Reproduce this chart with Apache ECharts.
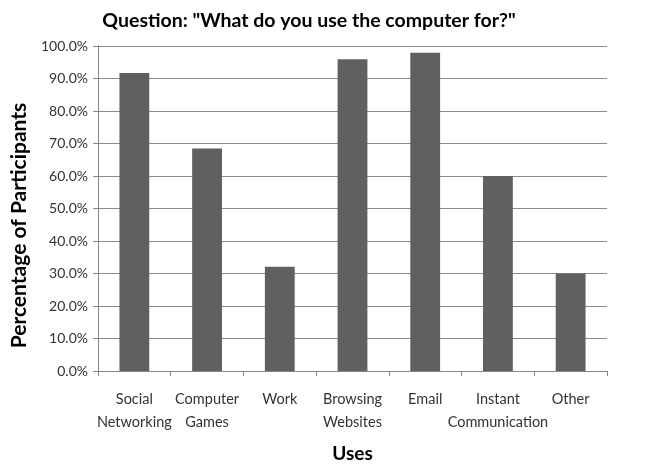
<!DOCTYPE html>
<html>
<head>
<meta charset="utf-8">
<script src="https://cdn.jsdelivr.net/npm/echarts@6/dist/echarts.min.js"></script>
<style>
  html, body { margin: 0; padding: 0; background: #fff; }
  #chart { width: 659px; height: 468px; }
</style>
</head>
<body>
<div id="chart"></div>
<script>
const categories = ['Social Networking', 'Computer Games', 'Work', 'Browsing Websites', 'Email', 'Instant Communication', 'Other']
const percentages = [91.7, 68.5, 32.1, 95.9, 97.9, 60.0, 30.0]

const chart = echarts.init(document.getElementById('chart'))
const font = 'Lato'

const option = {
  animation: false,
  title: {
    text: 'Question: "What do you use the computer for?"',
    left: 304,
    textAlign: 'center',
    top: 6,
    textStyle: { fontFamily: font, fontSize: 19.5, fontWeight: 'bold', color: '#000' }
  },
  grid: { left: 98, right: 52, top: 46, bottom: 94 },
  xAxis: {
    type: 'category',
    data: categories,
    name: 'Uses',
    nameLocation: 'middle',
    nameGap: 73,
    nameTextStyle: { fontFamily: font, fontSize: 19, fontWeight: 'bold', color: '#000' },
    axisLine: { lineStyle: { color: '#868686' } },
    axisTick: { show: true, length: 5, lineStyle: { color: '#868686' } },
    axisLabel: {
      interval: 0,
      margin: 17,
      fontFamily: font,
      fontSize: 14.5,
      lineHeight: 23,
      color: '#333',
      formatter: v => v.replace(' ', '\n')
    }
  },
  yAxis: {
    type: 'value',
    min: 0,
    max: 100,
    interval: 10,
    name: 'Percentage of Participants',
    nameLocation: 'middle',
    nameGap: 65,
    nameTextStyle: { fontFamily: font, fontSize: 21, fontWeight: 'bold', color: '#000', padding: [0, 34, 0, 0] },
    axisLine: { show: true, lineStyle: { color: '#868686' } },
    axisTick: { show: true, length: 5, lineStyle: { color: '#868686' } },
    axisLabel: {
      margin: 10,
      fontFamily: font,
      fontSize: 14,
      color: '#333',
      formatter: v => v.toFixed(1) + '%'
    },
    splitLine: { lineStyle: { color: '#8a8a8a' } }
  },
  series: [
    {
      type: 'bar',
      data: percentages,
      barWidth: '41%',
      itemStyle: { color: '#606060' }
    }
  ]
}

chart.setOption(option)
</script>
</body>
</html>
